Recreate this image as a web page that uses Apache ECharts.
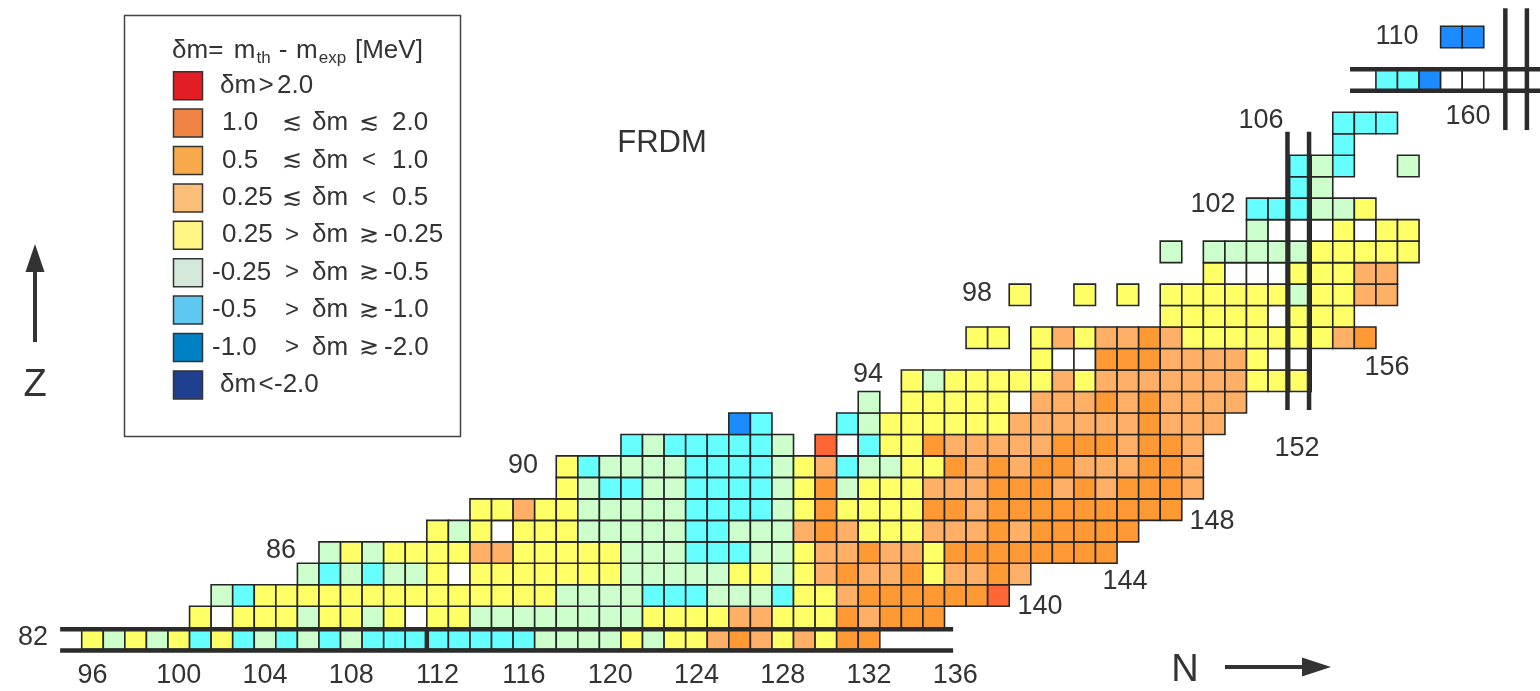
<!DOCTYPE html>
<html>
<head>
<meta charset="utf-8">
<title>FRDM - mass differences</title>
<script src="https://cdn.jsdelivr.net/npm/echarts@6.0.0/dist/echarts.min.js"></script>
<style>
  html, body { margin: 0; padding: 0; background: #fff; }
  #main { width: 1540px; height: 691px; }
</style>
</head>
<body>
<div id="main"></div>
<script>
// one row of the nuclide chart per proton number Z, starting at neutron number nFirst
// codes: R >2, O 1..2, o 0.5..1, l 0.25..0.5, y -0.25..0.25, g -0.5..-0.25,
//        c -1..-0.5, b -2..-1, B <-2, w measured but blank, . no nucleus (spaces are ignored)
var zRows = [82, 83, 84, 85, 86, 87, 88, 89, 90, 91, 92, 93, 94, 95, 96, 97, 98, 99, 100, 101, 102, 103, 104, 105, 106, 108, 110];
var nFirst = [96, 101, 102, 106, 107, 112, 114, 118, 118, 121, 126, 132, 134, 140, 137, 146, 139, 148, 146, 150, 150, 152, 152, 154, 154, 156, 159];
var rowCodes = [
  'ygygycycgcgcg cccccccc gggg ygyylolylyoo',      // 82
  'ywyyygyy gywyy gggggggg yyyy llyyy olooo',       // 83
  'gc yyyyyyyyyyyyyy gggg cccgggc yy l oooooo O',   // 84
  'gcgcgg yw yyyyyyy ggggg yygyl oll oyllol',       // 85
  'gygyyyy ll yyyyy ggg ccc gg yllolly oooooooo',   // 86
  'ygywyyy ggggg cc ggg lolyyy lllol ooooo',        // 87
  'yylyy ggggg cccc g yoyyyy ool ooooooooo',        // 88
  'ygccgg cccc g yog yyy lll ooo lol oool',         // 89
  'ycgggg cccc g ylcgg yyolol oolll ool',           // 90
  'cgccccc g . Ow cyy olllll oool ool',             // 91
  'bc...cg yyyyyy llllll olll',                     // 92
  'g.yyyyy w lll olo llll',                         // 93
  'ygyyyyy lyllllll l yyy',                         // 94
  'ywwooollllyww',                                  // 95
  'yy.ylyllolyyyyyyylo',                            // 96
  'yyyyywyyy',                                      // 97
  'y..y.y.yyyyyygyyll',                             // 98
  'ywwwyyyll',                                      // 99
  'g.gggggyyyyy',                                   // 100
  'gwwwywyy',                                       // 101
  'cccggy',                                         // 102
  'cg',                                             // 103
  'cgc..g',                                         // 104
  'c',                                              // 105
  'ccc',                                            // 106
  'ccbwww',                                         // 108
  'bb'                                              // 110
];

var classCodes = ['R', 'O', 'o', 'l', 'y', 'g', 'c', 'b', 'B', 'w'];
var legendRanges = [
  ['', '', 'δm', '>', '2.0'],
  ['1.0', '≲', 'δm', '≲', '2.0'],
  ['0.5', '≲', 'δm', '<', '1.0'],
  ['0.25', '≲', 'δm', '<', '0.5'],
  ['0.25', '>', 'δm', '≳', '-0.25'],
  ['-0.25', '>', 'δm', '≳', '-0.5'],
  ['-0.5', '>', 'δm', '≳', '-1.0'],
  ['-1.0', '>', 'δm', '≳', '-2.0'],
  ['', '', 'δm', '<', '-2.0']
];
// legend heading: [text, subscript?]
var legendTitle = [['δm= ', false], ['m', false], ['th', true], [' - ', false], ['m', false], ['exp', true], [' [MeV]', false]];
// shell closures drawn as double lines: [N1, Z1, N2, Z2]
var shellLines = [
  [94.5, 82.43, 135.9, 82.43], [94.5, 81.44, 135.9, 81.44],
  [111.5, 81.44, 111.5, 82.43],
  [151.4, 92.64, 151.4, 105.59], [152.4, 92.64, 152.4, 105.59],
  [154.3, 108.5, 163.2, 108.5], [154.3, 107.5, 163.2, 107.5],
  [161.5, 105.67, 161.5, 111.34], [162.5, 105.67, 162.5, 111.34]
];
var nTicks = [96, 100, 104, 108, 112, 116, 120, 124, 128, 132, 136];

var cellColors = ['#e82424', '#ff6633', '#ff9933', '#ffb066', '#ffff66', '#ccffcc', '#66ffff', '#1a8cff', '#1f3f8f', '#ffffff'];
var swatchColors = ['#e31d24', '#f08444', '#f8a94b', '#fbbe79', '#fff585', '#d5e9da', '#5fc8f1', '#0080c5', '#1f3f8f'];

var cellData = [];
zRows.forEach(function (z, i) {
  var codes = rowCodes[i].replace(/ /g, '');
  for (var k = 0; k < codes.length; k++) {
    var cls = classCodes.indexOf(codes.charAt(k));
    if (cls >= 0) cellData.push([nFirst[i] + k, z, cls]);
  }
});

var FONT = '"Liberation Sans", Arial, sans-serif';
var INK = '#333';

function txt(s, x, y, size, align) {
  return {
    type: 'text', x: x, y: y, silent: true, z: 10,
    style: {
      text: s, fill: INK, font: size + 'px ' + FONT,
      align: align || 'center', verticalAlign: 'middle',
      textAlign: align || 'center', textVerticalAlign: 'middle'
    }
  };
}

var chart = echarts.init(document.getElementById('main'));

chart.setOption({
  animation: false,
  backgroundColor: '#fff',
  grid: { left: 0, right: 0, top: 0, bottom: 0 },
  xAxis: { type: 'value', min: 91.712, max: 163.107, show: false },
  yAxis: { type: 'value', min: 79.556, max: 111.725, show: false },
  series: [
    {
      type: 'custom',
      coordinateSystem: 'cartesian2d',
      data: cellData,
      encode: { x: 0, y: 1 },
      clip: false,
      silent: true,
      z: 2,
      renderItem: function (params, api) {
        var p = api.coord([api.value(0), api.value(1)]);
        var s = api.size([1, 1]);
        return {
          type: 'rect',
          shape: { x: p[0] - s[0] / 2, y: p[1] - s[1] / 2, width: s[0], height: s[1] },
          style: { fill: cellColors[api.value(2)], stroke: '#262626', lineWidth: 1.6 }
        };
      }
    },
    {
      type: 'custom',
      coordinateSystem: 'cartesian2d',
      data: shellLines,
      encode: { x: [0, 2], y: [1, 3] },
      clip: false,
      silent: true,
      z: 3,
      renderItem: function (params, api) {
        var a = api.coord([api.value(0), api.value(1)]);
        var b = api.coord([api.value(2), api.value(3)]);
        return {
          type: 'line',
          shape: { x1: a[0], y1: a[1], x2: b[0], y2: b[1] },
          style: { stroke: '#2b2b2b', lineWidth: 4.5 }
        };
      }
    }
  ]
});

var g = [];

// legend box
g.push({ type: 'rect', shape: { x: 124.5, y: 15.5, width: 336, height: 421 },
  style: { fill: '#fff', stroke: '#444', lineWidth: 1.5 }, z: 5, silent: true });

// heading laid out piece by piece, then stretched to the span it has in the figure
var ctx = document.createElement('canvas').getContext('2d');
var pieces = legendTitle.map(function (t) {
  var size = t[1] ? 17 : 26;
  ctx.font = size + 'px ' + FONT;
  return { s: t[0], sub: t[1], size: size, w: ctx.measureText(t[0]).width };
});
var total = pieces.reduce(function (a, p) { return a + p.w; }, 0);
var k = (427 - 172) / total;
var cx = 172;
pieces.forEach(function (p) {
  g.push(txt(p.s, cx, p.sub ? 58 : 51, p.size, 'left'));
  cx += p.w * k;
});

legendRanges.forEach(function (r, i) {
  var cy = 85.7 + i * 37.4;
  g.push({ type: 'rect', shape: { x: 173.5, y: cy - 14, width: 29, height: 28 },
    style: { fill: swatchColors[i], stroke: '#333', lineWidth: 1.5 }, z: 6, silent: true });
  if (r[0] === '') {
    g.push(txt(r[2], 220, cy, 26, 'left'));
    g.push(txt(r[3], 266, cy, 26, 'center'));
    g.push(txt(r[4], r[4].charAt(0) === '-' ? 274 : 277, cy, 26, 'left'));
  } else {
    g.push(txt(r[0], r[0].charAt(0) === '-' ? 212 : 222, cy, 26, 'left'));
    g.push(txt(r[1], 292, cy, 24, 'center'));
    g.push(txt(r[2], 312, cy, 26, 'left'));
    g.push(txt(r[3], 369, cy, 24, 'center'));
    g.push(txt(r[4], r[4].charAt(0) === '-' ? 384 : 392, cy, 26, 'left'));
  }
});

// model name
g.push(txt('FRDM', 662, 143, 31, 'center'));

// proton numbers along the rows
g.push(txt('82', 33, 638, 27));
g.push(txt('86', 281, 551, 27));
g.push(txt('90', 523, 466, 27));
g.push(txt('94', 868, 375, 27));
g.push(txt('98', 977, 294, 27));
g.push(txt('102', 1213, 205, 27));
g.push(txt('106', 1261, 121, 27));
g.push(txt('110', 1397, 37, 27));

// neutron numbers along the lower edge
g.push(txt('140', 1040, 607, 27));
g.push(txt('144', 1125, 582, 27));
g.push(txt('148', 1212, 522, 27));
g.push(txt('152', 1297, 449, 27));
g.push(txt('156', 1387, 368, 27));
g.push(txt('160', 1468, 117, 27));
nTicks.forEach(function (n) {
  var px = chart.convertToPixel({ gridIndex: 0 }, [n, 82]);
  g.push(txt(String(n), px[0], 676, 27));
});

// axis arrows
g.push(txt('Z', 35, 386, 38));
g.push({ type: 'line', shape: { x1: 35, y1: 342, x2: 35, y2: 266 },
  style: { stroke: INK, lineWidth: 4 }, silent: true });
g.push({ type: 'polygon', shape: { points: [[35, 244], [25.5, 272], [44.5, 272]] },
  style: { fill: INK }, silent: true });
g.push(txt('N', 1185, 671, 38));
g.push({ type: 'line', shape: { x1: 1225, y1: 667, x2: 1308, y2: 667 },
  style: { stroke: INK, lineWidth: 4 }, silent: true });
g.push({ type: 'polygon', shape: { points: [[1331, 667], [1302, 657.5], [1302, 676.5]] },
  style: { fill: INK }, silent: true });

chart.setOption({ graphic: { elements: g } });
</script>
</body>
</html>
